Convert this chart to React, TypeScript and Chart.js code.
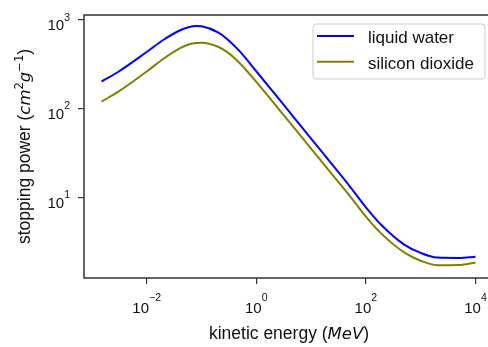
import React, { useEffect, useRef } from "react";
import { Chart, registerables } from "chart.js";

Chart.register(...registerables);

// ---- data ----
const energyMeV = [0.0015, 0.003, 0.01, 0.02, 0.04, 0.06, 0.08, 0.1, 0.2, 0.3, 0.5, 1, 2, 5, 10, 20, 50, 100, 200, 500, 1000, 2000, 5000, 10000];
const liquidWater = [203, 260, 436, 595, 762, 834, 856, 849, 725, 605, 444, 265, 157, 78.3, 46.3, 27.3, 13.6, 7.8, 4.8, 2.97, 2.39, 2.12, 2.1, 2.17];
const siliconDioxide = [120.5, 155, 263, 364, 478, 533, 552, 555, 500, 432, 326, 201, 120, 60.4, 35.7, 21.1, 10.6, 6.13, 3.84, 2.42, 1.95, 1.74, 1.75, 1.87];
const seriesNames = ["liquid water", "silicon dioxide"];
const seriesColors = ["#0000ff", "#808000"];
const xTickExponents = [-2, 0, 2, 4];
const yTickExponents = [1, 2, 3];
const xLimitExponents = [-3.144, 4.338];
const yLimitExponents = [0.0963, 3.0563];

const SANS = '"Liberation Sans", Arial, sans-serif';
const MATH = '"DejaVu Sans", sans-serif';
const TEXT = "#111111";
const FRAME = "#333333";

function expText(e: number) {
  return e < 0 ? "\u2212" + String(-e) : String(e);
}

type Seg = { t: string; f: string; dy?: number };

function segWidth(ctx: CanvasRenderingContext2D, segs: Seg[]) {
  let w = 0;
  for (const s of segs) {
    ctx.font = s.f;
    w += ctx.measureText(s.t).width;
  }
  return w;
}

function drawSegs(ctx: CanvasRenderingContext2D, segs: Seg[], x: number, y: number) {
  let cx = x;
  for (const s of segs) {
    ctx.font = s.f;
    ctx.fillText(s.t, cx, y + (s.dy || 0));
    cx += ctx.measureText(s.t).width;
  }
}

const overlay = {
  id: "overlay",
  afterDraw(chart: any) {
    const { ctx, chartArea: a, scales } = chart;
    const xs = scales.x;
    const ys = scales.y;
    ctx.save();
    // frame
    ctx.strokeStyle = FRAME;
    ctx.lineWidth = 1.5;
    ctx.strokeRect(a.left, a.top, a.right - a.left, a.bottom - a.top);

    ctx.fillStyle = TEXT;
    ctx.textAlign = "left";
    ctx.textBaseline = "alphabetic";
    const baseFont = `15px ${SANS}`;
    const supFont = `10.5px ${SANS}`;

    // x tick labels
    for (const e of xTickExponents) {
      const px = xs.getPixelForValue(10 ** e);
      ctx.font = baseFont;
      const w1 = ctx.measureText("10").width;
      ctx.font = supFont;
      const w2 = ctx.measureText(expText(e)).width;
      const start = px - (w1 + w2) / 2;
      ctx.font = baseFont;
      ctx.fillText("10", start, a.bottom + 35);
      ctx.font = supFont;
      ctx.fillText(expText(e), start + w1, a.bottom + 23);
    }
    // y tick labels
    for (const e of yTickExponents) {
      const py = ys.getPixelForValue(10 ** e);
      ctx.font = baseFont;
      const w1 = ctx.measureText("10").width;
      ctx.font = supFont;
      const w2 = ctx.measureText(expText(e)).width;
      const start = a.left - 14 - (w1 + w2);
      ctx.font = baseFont;
      ctx.fillText("10", start, py + 10);
      ctx.font = supFont;
      ctx.fillText(expText(e), start + w1, py + 0.5);
    }

    // x title
    const xt: Seg[] = [
      { t: "kinetic energy (", f: `17.5px ${SANS}` },
      { t: "MeV", f: `italic 16.5px ${MATH}` },
      { t: ")", f: `17.5px ${SANS}` },
    ];
    const cx = (a.left + a.right) / 2;
    drawSegs(ctx, xt, cx - segWidth(ctx, xt) / 2, a.bottom + 61);

    // y title
    const yt: Seg[] = [
      { t: "stopping power (", f: `17.5px ${SANS}` },
      { t: "cm", f: `italic 16.5px ${MATH}` },
      { t: "2", f: `11.5px ${MATH}`, dy: -7 },
      { t: "g", f: `italic 16.5px ${MATH}` },
      { t: "\u22121", f: `11.5px ${MATH}`, dy: -7 },
      { t: ")", f: `17.5px ${SANS}` },
    ];
    ctx.save();
    ctx.translate(30, (a.top + a.bottom) / 2);
    ctx.rotate(-Math.PI / 2);
    drawSegs(ctx, yt, -segWidth(ctx, yt) / 2, 0);
    ctx.restore();

    // legend
    const lx = 313, ly = 24, lw = 172, lh = 55, r = 3;
    ctx.beginPath();
    ctx.moveTo(lx + r, ly);
    ctx.arcTo(lx + lw, ly, lx + lw, ly + lh, r);
    ctx.arcTo(lx + lw, ly + lh, lx, ly + lh, r);
    ctx.arcTo(lx, ly + lh, lx, ly, r);
    ctx.arcTo(lx, ly, lx + lw, ly, r);
    ctx.closePath();
    ctx.fillStyle = "rgba(255,255,255,0.8)";
    ctx.fill();
    ctx.strokeStyle = "#cccccc";
    ctx.lineWidth = 1;
    ctx.stroke();
    seriesNames.forEach((name, i) => {
      const yy = ly + 12 + i * 25.7;
      ctx.strokeStyle = seriesColors[i];
      ctx.lineWidth = 2;
      ctx.beginPath();
      ctx.moveTo(317, yy);
      ctx.lineTo(354, yy);
      ctx.stroke();
      ctx.fillStyle = TEXT;
      ctx.font = `17px ${SANS}`;
      ctx.fillText(name, 368, yy + 7);
    });
    ctx.restore();
  },
};

export default function App() {
  const ref = useRef<HTMLCanvasElement | null>(null);
  useEffect(() => {
    if (!ref.current) return;
    const tickGrid = {
      display: true,
      drawOnChartArea: false,
      drawTicks: true,
      tickLength: 6,
      color: FRAME,
      lineWidth: 1.2,
    };
    const chart = new Chart(ref.current, {
      type: "line",
      data: {
        datasets: [liquidWater, siliconDioxide].map((vals, i) => ({
          label: seriesNames[i],
          data: energyMeV.map((e, j) => ({ x: e, y: vals[j] })),
          borderColor: seriesColors[i],
          backgroundColor: seriesColors[i],
          borderWidth: 2,
          pointRadius: 0,
          fill: false,
          cubicInterpolationMode: "monotone" as const,
        })),
      },
      options: {
        animation: false,
        responsive: false,
        devicePixelRatio: 1,
        layout: { padding: { top: 15, right: 2, bottom: 0, left: 0 } },
        plugins: { legend: { display: false }, tooltip: { enabled: false }, title: { display: false } },
        scales: {
          x: {
            type: "logarithmic",
            bounds: "data",
            min: 10 ** xLimitExponents[0],
            max: 10 ** xLimitExponents[1],
            afterBuildTicks: (s: any) => {
              s.ticks = xTickExponents.map((e) => ({ value: 10 ** e }));
            },
            afterFit: (s: any) => {
              s.height = 69;
            },
            ticks: { display: false },
            grid: tickGrid,
            border: { display: false },
          },
          y: {
            type: "logarithmic",
            bounds: "data",
            min: 10 ** yLimitExponents[0],
            max: 10 ** yLimitExponents[1],
            afterBuildTicks: (s: any) => {
              s.ticks = yTickExponents.map((e) => ({ value: 10 ** e }));
            },
            afterFit: (s: any) => {
              s.width = 84;
            },
            ticks: { display: false },
            grid: tickGrid,
            border: { display: false },
          },
        },
      } as any,
      plugins: [overlay],
    });
    return () => chart.destroy();
  }, []);
  return (
    <div style={{ position: "fixed", left: 0, top: 0, width: 488, height: 347, overflow: "hidden", background: "#fff" }}>
      <canvas ref={ref} width={496} height={347} style={{ display: "block", width: 496, height: 347 }} />
    </div>
  );
}
